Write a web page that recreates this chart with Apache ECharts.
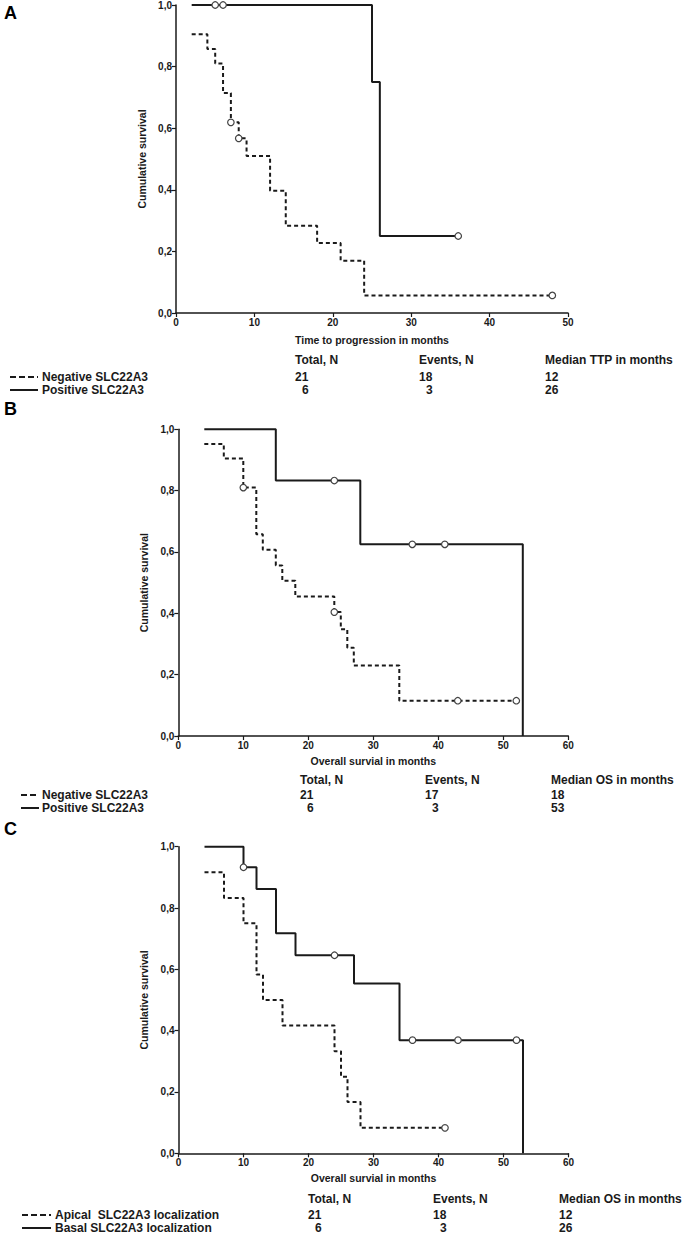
<!DOCTYPE html>
<html><head><meta charset="utf-8">
<script src="https://cdn.jsdelivr.net/npm/echarts@6/dist/echarts.min.js"></script>
<style>html,body{margin:0;padding:0;background:#fff}#c{width:685px;height:1235px}</style>
</head><body><div id="c"></div>
<script>
// ---------- DATA ----------
// Panel A: time to progression
const aNegTime = [2, 4, 5, 6, 7, 8, 9, 12, 14, 18, 21, 24, 48];
const aNegSurv = [0.905, 0.857, 0.810, 0.714, 0.619, 0.567, 0.510, 0.397, 0.283, 0.227, 0.170, 0.057, 0.057];
const aPosTime = [2, 25, 26, 36];
const aPosSurv = [1.0, 0.75, 0.25, 0.25];
const aNegCensTime = [7, 8, 48];
const aNegCensSurv = [0.619, 0.567, 0.057];
const aPosCensTime = [5, 6, 36];
const aPosCensSurv = [1.0, 1.0, 0.25];

// Panel B: overall survival
const bNegTime = [4, 7, 10, 12, 13, 15, 16, 18, 24, 25, 26, 27, 34, 52];
const bNegSurv = [0.952, 0.905, 0.810, 0.658, 0.607, 0.556, 0.506, 0.455, 0.404, 0.348, 0.288, 0.230, 0.115, 0.115];
const bPosTime = [4, 15, 28, 53];
const bPosSurv = [1.0, 0.833, 0.625, 0.0];
const bNegCensTime = [10, 24, 43, 52];
const bNegCensSurv = [0.810, 0.404, 0.115, 0.115];
const bPosCensTime = [24, 36, 41];
const bPosCensSurv = [0.833, 0.625, 0.625];

// Panel C: overall survival by localization
const cNegTime = [4, 7, 10, 12, 13, 16, 24, 25, 26, 28, 41];
const cNegSurv = [0.917, 0.833, 0.750, 0.583, 0.500, 0.417, 0.333, 0.250, 0.167, 0.083, 0.083];
const cPosTime = [4, 10, 12, 15, 18, 27, 34, 53];
const cPosSurv = [1.0, 0.933, 0.862, 0.718, 0.646, 0.554, 0.369, 0.0];
const cNegCensTime = [41];
const cNegCensSurv = [0.083];
const cPosCensTime = [10, 24, 36, 43, 52];
const cPosCensSurv = [0.933, 0.646, 0.369, 0.369, 0.369];

// Axis tick labels / titles
const yTickLabels = ['0,0', '0,2', '0,4', '0,6', '0,8', '1,0'];
const panelLetters = ['A', 'B', 'C'];
const xTitles = ['Time to progression in months', 'Overall survial in months', 'Overall survial in months'];
const yTitle = 'Cumulative survival';
const xMaxes = [50, 60, 60];

// Tables
const tableHeaders = [
  ['Total, N', 'Events, N', 'Median TTP in months'],
  ['Total, N', 'Events, N', 'Median OS in months'],
  ['Total, N', 'Events, N', 'Median OS in months']
];
const groupNames = [
  ['Negative SLC22A3', 'Positive SLC22A3'],
  ['Negative SLC22A3', 'Positive SLC22A3'],
  ['Apical  SLC22A3 localization', 'Basal SLC22A3 localization']
];
const totals = [[21, 6], [21, 6], [21, 6]];
const events = [[18, 3], [17, 3], [18, 3]];
const medians = [[12, 26], [18, 53], [12, 26]];

// ---------- LAYOUT ----------
const grids = [
  {left: 176, top: 4.5, width: 392, height: 308.5},
  {left: 178.3, top: 429.3, width: 390, height: 306.7},
  {left: 178.5, top: 846.7, width: 390, height: 306.6}
];
const tableLayout = [
  {cols: [295, 419, 545], hy: 360, r1: 377, r2: 390, lx1: 10, lx2: 38, tx: 42},
  {cols: [300, 425, 551], hy: 780, r1: 795, r2: 808, lx1: 21, lx2: 39, tx: 42},
  {cols: [308, 433, 559], hy: 1199, r1: 1215, r2: 1228, lx1: 22, lx2: 51, tx: 55}
];
const letterY = [4, 400, 820];

const panels = [
  {neg: [aNegTime, aNegSurv], pos: [aPosTime, aPosSurv], nc: [aNegCensTime, aNegCensSurv], pc: [aPosCensTime, aPosCensSurv]},
  {neg: [bNegTime, bNegSurv], pos: [bPosTime, bPosSurv], nc: [bNegCensTime, bNegCensSurv], pc: [bPosCensTime, bPosCensSurv]},
  {neg: [cNegTime, cNegSurv], pos: [cPosTime, cPosSurv], nc: [cNegCensTime, cNegCensSurv], pc: [cPosCensTime, cPosCensSurv]}
];

const zip = (t, s) => t.map((v, i) => [v, s[i]]);
const INK = '#1a1a1a';
const tickFont = '"Liberation Sans Narrow", "Arial Narrow", "Liberation Sans", sans-serif';
const textFont = '"Liberation Sans", Arial, sans-serif';

const xAxes = [], yAxes = [], series = [], graphic = [];
panels.forEach((p, i) => {
  xAxes.push({
    gridIndex: i, type: 'value', min: 0, max: xMaxes[i], interval: 10,
    name: xTitles[i], nameLocation: 'middle', nameGap: i === 0 ? 21 : 19,
    nameTextStyle: {fontFamily: textFont, fontWeight: 'bold', fontSize: 10.5, color: INK},
    axisLine: {show: true, onZero: false, lineStyle: {color: INK, width: 1.5}},
    axisTick: {show: true, length: 4, lineStyle: {color: INK, width: 1.2}},
    axisLabel: {fontFamily: tickFont, fontWeight: 'bold', fontSize: 10, color: INK, margin: 4},
    splitLine: {show: false}
  });
  yAxes.push({
    gridIndex: i, type: 'value', min: 0, max: 1, interval: 0.2,
    name: yTitle, nameLocation: 'middle', nameGap: i === 0 ? 17 : 16, nameRotate: 90,
    nameTextStyle: {fontFamily: textFont, fontWeight: 'bold', fontSize: 10.5, color: INK},
    axisLine: {show: true, onZero: false, lineStyle: {color: INK, width: 1.5}},
    axisTick: {show: true, length: 4, lineStyle: {color: INK, width: 1.2}},
    axisLabel: {fontFamily: tickFont, fontWeight: 'bold', fontSize: 10, color: INK, margin: 4,
      formatter: v => yTickLabels[Math.round(v / 0.2)]},
    splitLine: {show: false}
  });
  series.push({
    type: 'line', xAxisIndex: i, yAxisIndex: i, step: 'end', data: zip(p.neg[0], p.neg[1]),
    showSymbol: false, clip: false, lineStyle: {color: INK, width: 2, type: [4, 3]}, z: 2
  });
  series.push({
    type: 'line', xAxisIndex: i, yAxisIndex: i, step: 'end', data: zip(p.pos[0], p.pos[1]),
    showSymbol: false, clip: false, lineStyle: {color: INK, width: 2}, z: 2
  });
  [p.nc, p.pc].forEach(c => series.push({
    type: 'scatter', xAxisIndex: i, yAxisIndex: i, data: zip(c[0], c[1]), symbol: 'circle',
    symbolSize: 6.5, clip: false, z: 5,
    itemStyle: {color: '#fff', opacity: 1, borderColor: '#444', borderWidth: 1.2}
  }));

  // panel letter
  graphic.push({type: 'text', x: 4, y: letterY[i],
    style: {text: panelLetters[i], font: 'bold 18px ' + textFont, fill: '#000'}});
  // table
  const L = tableLayout[i];
  const tf = 'bold 12px ' + textFont;
  tableHeaders[i].forEach((h, k) => graphic.push({type: 'text', x: L.cols[k], y: L.hy,
    style: {text: h, font: tf, fill: INK, verticalAlign: 'middle'}}));
  [L.r1, L.r2].forEach((ry, r) => {
    graphic.push({type: 'line', shape: {x1: L.lx1, y1: ry, x2: L.lx2, y2: ry},
      style: {stroke: INK, lineWidth: 2, lineDash: r === 0 ? [6, 3] : null}});
    graphic.push({type: 'text', x: L.tx, y: ry,
      style: {text: groupNames[i][r], font: tf, fill: INK, verticalAlign: 'middle'}});
    const vals = [totals[i][r], events[i][r], medians[i][r]];
    vals.forEach((v, k) => {
      const s = String(v);
      const off = (k < 2 && s.length === 1) ? 7 : 0;
      graphic.push({type: 'text', x: L.cols[k] + off, y: ry,
        style: {text: s, font: tf, fill: INK, verticalAlign: 'middle'}});
    });
  });
});

const chart = echarts.init(document.getElementById('c'), null, {renderer: 'svg'});
chart.setOption({
  animation: false,
  backgroundColor: '#fff',
  grid: grids.map(g => Object.assign({containLabel: false}, g)),
  xAxis: xAxes, yAxis: yAxes, series: series, graphic: graphic
});
</script></body></html>
